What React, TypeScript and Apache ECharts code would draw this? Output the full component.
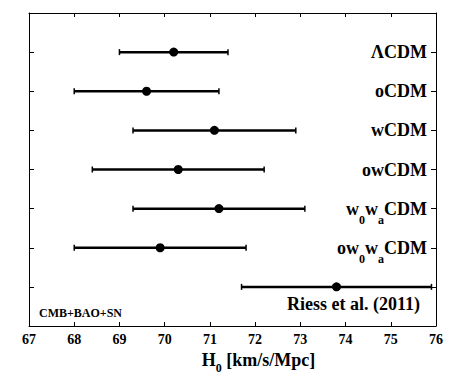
import React, { useEffect, useRef } from "react";
import * as echarts from "echarts";

const modelLabels = [
  "{m|ΛCDM}",
  "{m|oCDM}",
  "{m|wCDM}",
  "{m|owCDM}",
  "{m|w}{s|0}{m|w}{s|a}{m|CDM}",
  "{m|ow}{s|0}{m|w}{s|a}{m|CDM}",
  "",
];
const centers = [70.2, 69.6, 71.1, 70.3, 71.2, 69.9, 73.8];
const lows = [69.0, 68.0, 69.3, 68.4, 69.3, 68.0, 71.7];
const highs = [71.4, 71.2, 72.9, 72.2, 73.1, 71.8, 75.9];
const xTicks = [67, 68, 69, 70, 71, 72, 73, 74, 75, 76];

const FONT = "'Liberation Serif', 'Times New Roman', serif";

export default function App() {
  const ref = useRef<HTMLDivElement>(null);
  useEffect(() => {
    if (!ref.current) return;
    const chart = echarts.init(ref.current, null, { renderer: "svg" });
    const n = centers.length;
    const data = centers.map((c, i) => [lows[i], c, highs[i], n - i]);
    const xMin = xTicks[0];
    const xMax = xTicks[xTicks.length - 1];
    const yAx = (pos: "left" | "right", labels: boolean) => ({
      type: "value",
      position: pos,
      min: 0,
      max: n + 1,
      interval: 1,
      axisLine: { show: true, lineStyle: { color: "#000", width: 1 } },
      axisTick: { show: true, inside: true, length: 5, lineStyle: { color: "#000" } },
      splitLine: { show: false },
      axisLabel: labels
        ? {
            show: true,
            inside: true,
            margin: 9,
            formatter: (v: number) => {
              const idx = n - v;
              return idx >= 0 && idx < n ? modelLabels[idx] : "";
            },
            rich: {
              m: { fontFamily: FONT, fontWeight: "bold", fontSize: 18, color: "#000" },
              s: {
                fontFamily: FONT,
                fontWeight: "bold",
                fontSize: 12,
                color: "#000",
                padding: [22, 0, 0, 0],
              },
            },
          }
        : { show: false },
    });
    const xAx = (pos: "top" | "bottom", labels: boolean) => ({
      type: "value",
      position: pos,
      min: xMin,
      max: xMax,
      interval: 1,
      axisLine: { show: true, onZero: false, lineStyle: { color: "#000", width: 1 } },
      axisTick: { show: true, inside: true, length: 4, lineStyle: { color: "#000" } },
      splitLine: { show: false },
      axisLabel: labels
        ? {
            show: true,
            margin: 6,
            fontFamily: FONT,
            fontWeight: "bold",
            fontSize: 14,
            color: "#000",
          }
        : { show: false },
      ...(labels
        ? {
            name: "{a|H}{b|0}{a| [km/s/Mpc]}",
            nameLocation: "middle",
            nameGap: 19,
            nameTextStyle: {
              padding: [0, 0, 0, 52],
              rich: {
                a: { fontFamily: FONT, fontWeight: "bold", fontSize: 18, color: "#000" },
                b: {
                  fontFamily: FONT,
                  fontWeight: "bold",
                  fontSize: 12,
                  color: "#000",
                  padding: [16, 0, 0, 0],
                },
              },
            },
          }
        : {}),
    });
    chart.setOption({
      animation: false,
      backgroundColor: "#fff",
      grid: {
        left: 29,
        right: 22,
        top: 13,
        bottom: 52,
        containLabel: false,
        outerBoundsMode: "none",
      },
      xAxis: [xAx("bottom", true), xAx("top", false)],
      yAxis: [yAx("left", false), yAx("right", true)],
      series: [
        {
          type: "custom",
          xAxisIndex: 0,
          yAxisIndex: 0,
          data,
          encode: { x: [0, 1, 2], y: 3 },
          renderItem: (params: any, api: any) => {
            const y = api.value(3);
            const pL = api.coord([api.value(0), y]);
            const pC = api.coord([api.value(1), y]);
            const pH = api.coord([api.value(2), y]);
            const st = { stroke: "#000", lineWidth: 2.5 };
            return {
              type: "group",
              children: [
                { type: "line", shape: { x1: pL[0], y1: pL[1], x2: pH[0], y2: pH[1] }, style: st },
                { type: "line", shape: { x1: pL[0], y1: pL[1] - 3, x2: pL[0], y2: pL[1] + 3 }, style: { stroke: "#000", lineWidth: 1.5 } },
                { type: "line", shape: { x1: pH[0], y1: pH[1] - 3, x2: pH[0], y2: pH[1] + 3 }, style: { stroke: "#000", lineWidth: 1.5 } },
                { type: "circle", shape: { cx: pC[0], cy: pC[1], r: 4.5 }, style: { fill: "#000" } },
              ],
            };
          },
        },
      ],
      graphic: [
        {
          type: "text",
          right: 38,
          top: 295,
          style: {
            text: "Riess et al. (2011)",
            fontFamily: FONT,
            fontWeight: "bold",
            fontSize: 18,
            fill: "#000",
          },
        },
        {
          type: "text",
          left: 39,
          top: 307,
          style: {
            text: "CMB+BAO+SN",
            fontFamily: FONT,
            fontWeight: "bold",
            fontSize: 12,
            fill: "#000",
          },
        },
      ],
    });
    return () => chart.dispose();
  }, []);
  return <div ref={ref} style={{ width: 458, height: 378, position: "absolute", left: 0, top: 0 }} />;
}
